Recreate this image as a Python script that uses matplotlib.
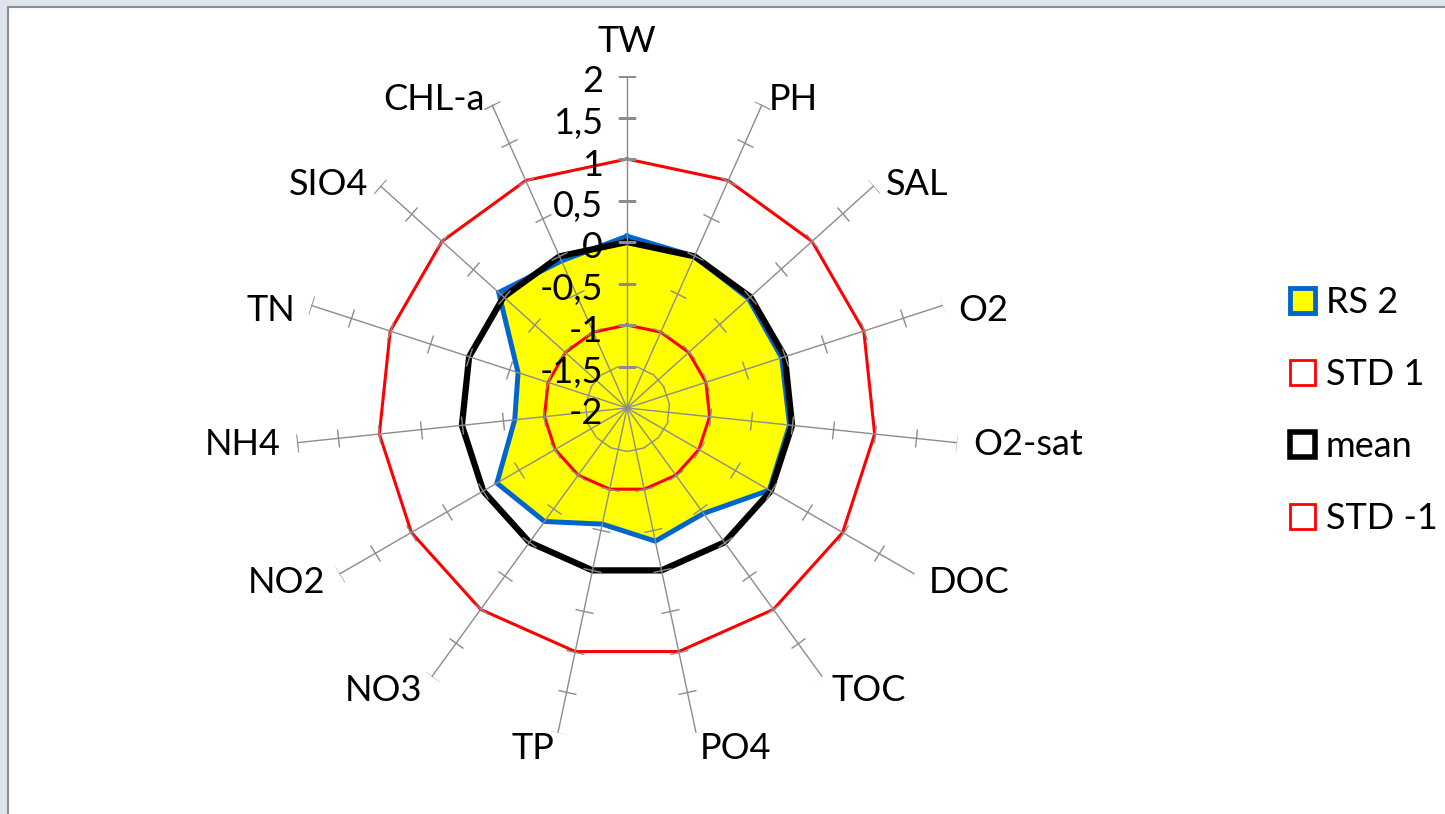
import numpy as np
import matplotlib
matplotlib.use("Agg")
import matplotlib.pyplot as plt
from matplotlib.patches import Patch, Rectangle
from matplotlib.markers import MarkerStyle
from matplotlib.transforms import Affine2D, offset_copy

# ---- Data ----
categories = ["TW", "PH", "SAL", "O2", "O2-sat", "DOC", "TOC", "PO4",
              "TP", "NO3", "NO2", "NH4", "TN", "SIO4", "CHL-a"]
rs2 = [0.07, 0.0, -0.03, -0.04, -0.03, -0.02, -0.43, -0.36,
       -0.57, -0.31, -0.19, -0.64, -0.62, 0.08, -0.06]
std_plus = [1] * 15
mean = [0] * 15
std_minus = [-1] * 15
tick_values = [-2, -1.5, -1, -0.5, 0, 0.5, 1, 1.5, 2]
tick_labels = ["-2", "-1,5", "-1", "-0,5", "0", "0,5", "1", "1,5", "2"]

plt.rcParams["font.family"] = ["Lato", "DejaVu Sans"]

W, H = 1445, 814
fig = plt.figure(figsize=(W / 100, H / 100), dpi=100)
fig.patch.set_facecolor("#dfe3ec")
fig.patches.append(Rectangle((8 / W, -0.1), 1.5, (H - 7) / H + 0.1,
                             transform=fig.transFigure, facecolor="white",
                             edgecolor="#8c8c8c", lw=1.5, zorder=-5))

# polar axes centred at (627, 408) px with radius 332 px
cx, cy, R = 627, 408, 332
ax = fig.add_axes([(cx - R) / W, (H - cy - R) / H, 2 * R / W, 2 * R / H],
                  projection="polar")
ax.set_facecolor("none")
ax.set_theta_zero_location("N")
ax.set_theta_direction(-1)
ax.set_ylim(-2, 2)
ax.grid(False)
ax.spines["polar"].set_visible(False)
ax.set_xticks([])
ax.set_yticks([])

n = len(categories)
theta = np.linspace(0, 2 * np.pi, n, endpoint=False)
tc = np.append(theta, theta[0])

def closed(v):
    return np.append(v, v[0])

# ---- Series ----
ax.fill(tc, closed(rs2), color="#ffff00", zorder=1)
ax.plot(tc, closed(rs2), color="#0066cc", lw=3.6, zorder=2, solid_joinstyle="miter")
ax.plot(tc, closed(std_plus), color="#ff0000", lw=2.2, zorder=3)
ax.plot(tc, closed(std_minus), color="#ff0000", lw=2.2, zorder=3)
ax.plot(tc, closed(mean), color="black", lw=4.5, zorder=4)

# ---- Spokes with tick marks ----
for t in theta:
    ax.plot([t, t], [-2, 2], color="#8c8c8c", lw=1, zorder=5)
    m = MarkerStyle("_", transform=Affine2D().rotate_deg(-np.degrees(t)))
    ax.plot([t] * 8, tick_values[1:], ls="none", marker=m, ms=13,
            mew=1, color="#8c8c8c", zorder=5)

# value labels on the TW spoke
lab_tr = offset_copy(ax.transData, fig=fig, x=-24, y=-6, units="dots")
for v, s in zip(tick_values, tick_labels):
    ax.text(0, v, s, transform=lab_tr, ha="right", va="center",
            fontsize=26, zorder=6)

# category labels
for t, name in zip(theta, categories):
    deg = np.degrees(t)
    if deg == 0:
        ax.text(t, 2.22, name, ha="center", va="bottom", fontsize=26)
        continue
    ha = "left" if deg < 180 else "right"
    dy = -10 if (deg < 90 or deg > 270) else 0
    tr = offset_copy(ax.transData, fig=fig, x=0, y=dy, units="dots")
    ax.text(t, 2.2, name, transform=tr, ha=ha, va="center", fontsize=26)

# ---- Legend ----
handles = [
    Patch(facecolor="#ffff00", edgecolor="#0066cc", lw=3.5, label="RS 2"),
    Patch(facecolor="white", edgecolor="#ff0000", lw=2, label="STD 1"),
    Patch(facecolor="white", edgecolor="black", lw=4, label="mean"),
    Patch(facecolor="white", edgecolor="#ff0000", lw=2, label="STD -1"),
]
fig.legend(handles=handles, loc="upper left",
           bbox_to_anchor=(1276 / W, 1 - 272 / H), frameon=False,
           fontsize=26, handlelength=0.68, handleheight=0.68,
           handletextpad=0.3, labelspacing=1.08, borderaxespad=0)

fig.savefig("out.png", dpi=100, facecolor=fig.get_facecolor())
